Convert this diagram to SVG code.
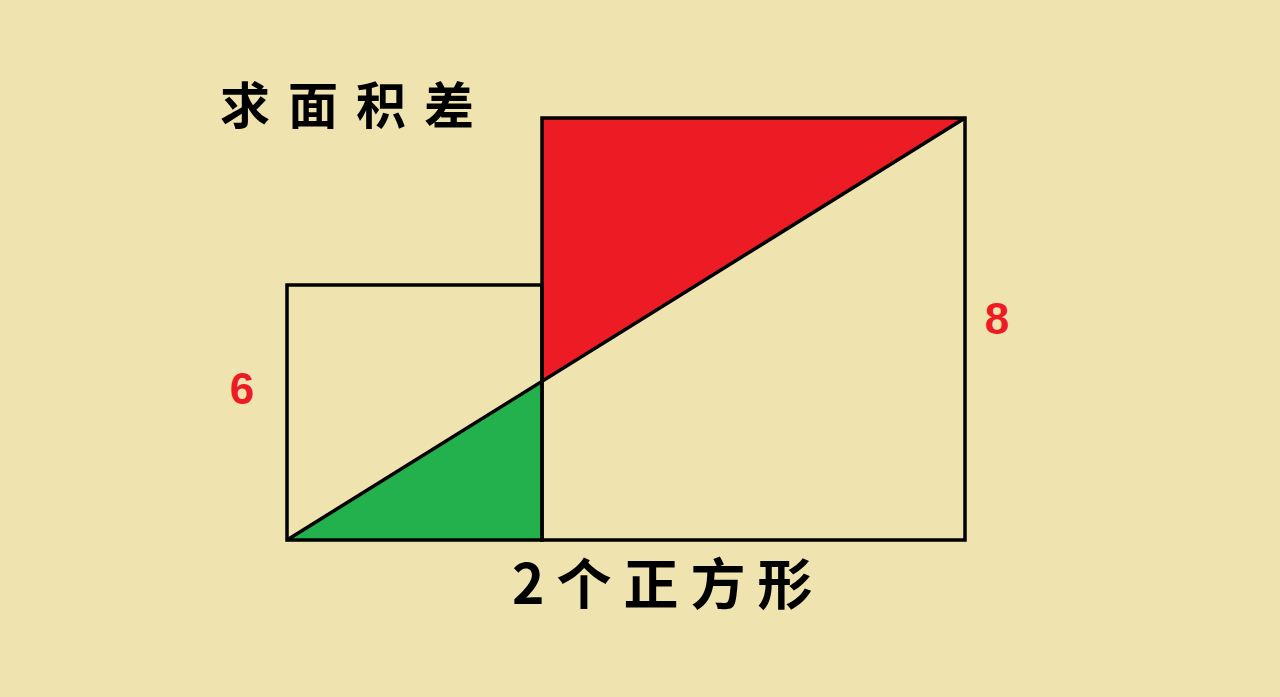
<svg xmlns="http://www.w3.org/2000/svg" width="1280" height="697" viewBox="0 0 1280 697">
<style>
.ln{stroke:#000;stroke-width:3.5;fill:none;stroke-linejoin:miter}
.cjk{font-family:"Noto Sans CJK SC","Noto Sans CJK JP",sans-serif;font-weight:700;fill:#000}
.num{font-family:"Liberation Sans",Arial,sans-serif;font-weight:700;fill:#ED1C24}
</style>
<rect width="1280" height="697" fill="#EFE4B0"/>
<g id="red-triangle"><polygon points="542,118 965,118 542,382" fill="#ED1C24"/></g>
<g id="green-triangle"><polygon points="287,540 542,382 542,540" fill="#22B14C"/></g>
<g id="small-square"><rect class="ln" x="287" y="285" width="255" height="255"/></g>
<g id="big-square"><rect class="ln" x="542" y="118" width="423" height="422"/></g>
<g id="connectors"><line class="ln" x1="287" y1="540" x2="965" y2="118"/></g>
<g id="title"><text class="cjk" x="220" y="124" font-size="50" letter-spacing="18">求面积差</text></g>
<g id="label-6"><text class="num" x="242" y="404" font-size="44" text-anchor="middle">6</text></g>
<g id="label-8"><text class="num" x="997" y="334" font-size="44" text-anchor="middle">8</text></g>
<g id="caption"><text class="cjk" x="512" y="604" font-size="55" letter-spacing="12">2个正方形</text></g>
</svg>
